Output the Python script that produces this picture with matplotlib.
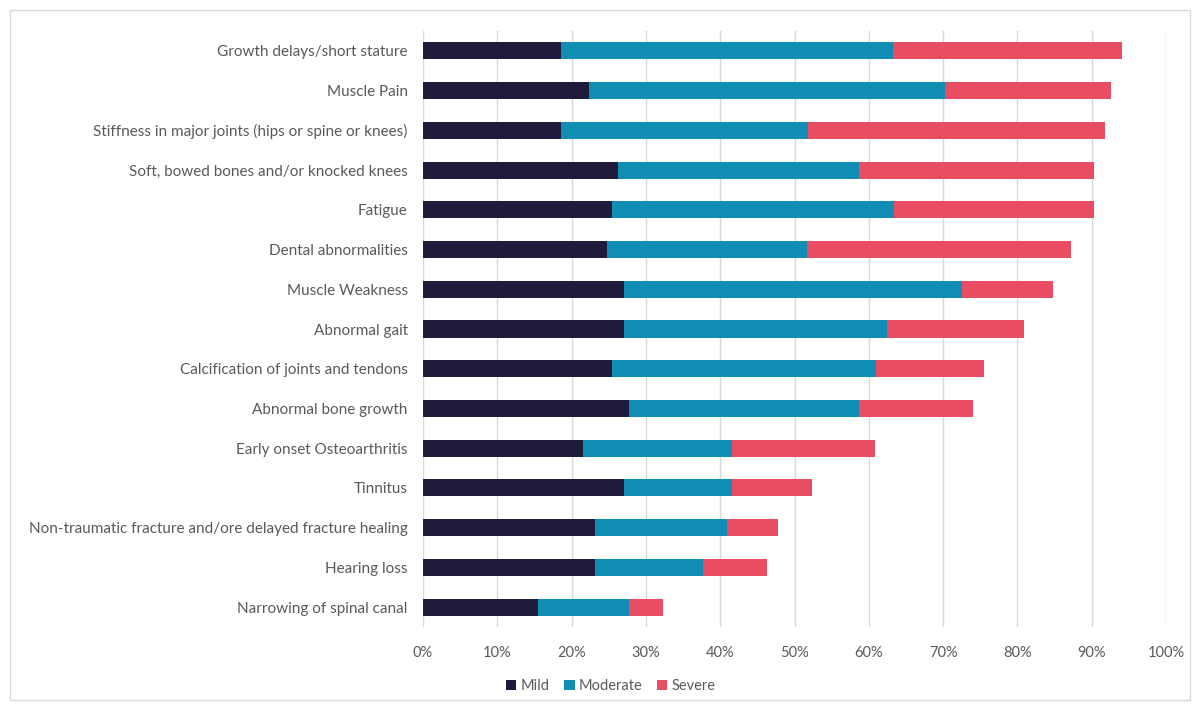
import matplotlib.pyplot as plt
import matplotlib.patches as mpatches
from matplotlib.ticker import PercentFormatter

# symptoms, top to bottom
symptoms = [
    "Growth delays/short stature",
    "Muscle Pain",
    "Stiffness in major joints (hips or spine or knees)",
    "Soft, bowed bones and/or knocked knees",
    "Fatigue",
    "Dental abnormalities",
    "Muscle Weakness",
    "Abnormal gait",
    "Calcification of joints and tendons",
    "Abnormal bone growth",
    "Early onset Osteoarthritis",
    "Tinnitus",
    "Non-traumatic fracture and/ore delayed fracture healing",
    "Hearing loss",
    "Narrowing of spinal canal",
]
mild = [18.6, 22.3, 18.6, 26.2, 25.4, 24.8, 27.1, 27.1, 25.4, 27.7, 21.5, 27.1, 23.1, 23.1, 15.5]
moderate = [44.7, 48.0, 33.2, 32.5, 38.0, 26.9, 45.4, 35.3, 35.6, 31.0, 20.1, 14.5, 17.8, 14.6, 12.2]
severe = [30.8, 22.3, 40.0, 31.6, 26.9, 35.5, 12.3, 18.5, 14.5, 15.3, 19.2, 10.8, 6.9, 8.6, 4.6]

c_mild = '#1f1c3b'
c_mod = '#0f8db3'
c_sev = '#e84d63'
text_col = '#595959'

plt.rcParams['font.family'] = ['Lato', 'DejaVu Sans']

fig = plt.figure(figsize=(11.95, 7.07), dpi=100)
ax = fig.add_axes([423/1195, 1 - 627/707, (1166 - 423)/1195, (627 - 31)/707])

y = list(range(len(symptoms)))
h = 0.43
left2 = mild
left3 = [a + b for a, b in zip(mild, moderate)]
ax.barh(y, mild, height=h, color=c_mild, label='Mild', zorder=3)
ax.barh(y, moderate, left=left2, height=h, color=c_mod, label='Moderate', zorder=3)
ax.barh(y, severe, left=left3, height=h, color=c_sev, label='Severe', zorder=3)

ax.set_ylim(len(symptoms) - 0.5, -0.5)
ax.set_xlim(0, 100)
ax.set_xticks(range(0, 101, 10))
ax.xaxis.set_major_formatter(PercentFormatter(decimals=0))
ax.set_yticks(y)
ax.set_yticklabels(symptoms)
ax.tick_params(axis='both', length=0, colors=text_col, labelsize=10.5)
ax.tick_params(axis='y', labelsize=11, pad=11)
ax.tick_params(axis='x', pad=14)
ax.grid(axis='x', color='#d9d9d9', linewidth=1, zorder=0)
for s in ax.spines.values():
    s.set_visible(False)

leg = fig.legend(loc='center', bbox_to_anchor=(611/1195, 1 - 686/707), ncol=3,
                 frameon=False, fontsize=10.5, handlelength=0.7, handleheight=0.7,
                 handletextpad=0.3, columnspacing=1.0)
for t in leg.get_texts():
    t.set_color(text_col)

fig.patches.append(mpatches.Rectangle((10/1195, 1 - 700/707), 1180/1195, 690/707,
                                      transform=fig.transFigure, fill=False,
                                      edgecolor='#d9d9d9', linewidth=1))

fig.savefig('out.png', dpi=100)
